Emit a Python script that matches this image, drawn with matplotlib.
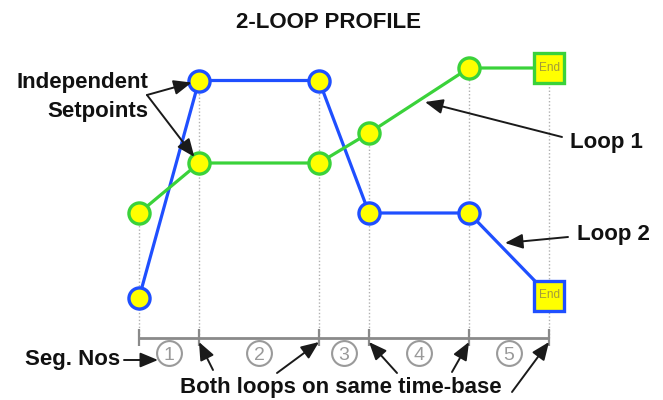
import matplotlib
matplotlib.use("Agg")
import matplotlib.pyplot as plt

# ---------------- data ----------------
times = [0, 15, 45, 57.5, 82.5, 102.5]          # segment boundaries (time base)
loop1 = [50, 70, 70, 82, 108, 108]               # Loop 1 setpoints (green)
loop2 = [16, 103, 103, 50, 50, 17]               # Loop 2 setpoints (blue)
seg_labels = ["1", "2", "3", "4", "5"]

# ---------------- layout helpers ----------------
X0, SX, Y0, SY = 139.0, 4.0, 338.0, 2.5           # pixel mapping of the drawing area
W, H = 663, 400


def P(xp, yp):
    return ((xp - X0) / SX, (Y0 - yp) / SY)


GREEN = "#3ad23a"
BLUE = "#1f4fff"
YELLOW = "#ffff00"
GRAY = "#9a9a9a"
FONT = "Liberation Sans"

fig = plt.figure(figsize=(W / 100, H / 100), dpi=100)
ax = fig.add_axes([0, 0, 1, 1])
ax.set_xlim(P(0, 0)[0], P(W, 0)[0])
ax.set_ylim(P(0, H)[1], P(0, 0)[1])
ax.axis("off")

# dotted vertical guides from the axis to the highest point at each time
tops = [max(a, b) for a, b in zip(loop1, loop2)]
ax.vlines(times, 0, tops, colors="#b0b0b0", linestyles=(0, (1, 1.5)), lw=1.0, zorder=1)

# time axis with ticks
ax.plot([times[0], times[-1]], [0, 0], color="#8a8a8a", lw=2.0, zorder=2,
        solid_capstyle="butt")
ax.vlines(times, -3.2, 3.6, colors="#8a8a8a", lw=1.6, zorder=2)

# segment numbers
mids = [(a + b) / 2 for a, b in zip(times[:-1], times[1:])]
ax.scatter(mids, [-6] * len(mids), s=320, facecolors="white", edgecolors=GRAY,
           linewidths=1.5, zorder=3)
for m, lab in zip(mids, seg_labels):
    ax.text(m, -6, lab, ha="center", va="center_baseline", fontsize=14,
            color=GRAY, family=FONT, zorder=4)

# loops
for vals, col in ((loop2, BLUE), (loop1, GREEN)):
    ax.plot(times, vals, color=col, lw=2.3, zorder=5, solid_capstyle="round")
    ax.plot(times[:-1], vals[:-1], ls="none", marker="o", ms=15.2,
            mfc=YELLOW, mec=col, mew=2.4, zorder=6)
    ax.plot(times[-1:], vals[-1:], ls="none", marker="s", ms=22,
            mfc=YELLOW, mec=col, mew=2.4, zorder=6)
    ax.text(times[-1], vals[-1], "End", ha="center", va="center", fontsize=8.5,
            color="#a39b3a", family=FONT, zorder=7)

# texts
tk = dict(fontsize=16, fontweight="bold", family=FONT, color="#111111")
ax.text(*P(329, 28), "2-LOOP PROFILE", ha="center", va="baseline", **tk)
ax.text(*P(148, 88), "Independent", ha="right", va="baseline", **tk)
ax.text(*P(148, 117), "Setpoints", ha="right", va="baseline", **tk)
ax.text(*P(570, 148), "Loop 1", ha="left", va="baseline", **tk)
ax.text(*P(577, 240), "Loop 2", ha="left", va="baseline", **tk)
ax.text(*P(25, 365), "Seg. Nos", ha="left", va="baseline", **tk)
ax.text(*P(180, 393), "Both loops on same time-base", ha="left", va="baseline", **tk)

# arrows
astyle = "-|>,head_length=0.6,head_width=0.25"


def arrow(tail, tip, shrinkB=0):
    ax.annotate("", xy=tip, xytext=tail,
                arrowprops=dict(arrowstyle=astyle, color="#1a1a1a", lw=1.4,
                                mutation_scale=18, shrinkA=0, shrinkB=shrinkB),
                zorder=8)


arrow(P(147, 95), (times[1], loop2[1]), shrinkB=5.5)
arrow(P(147, 95), (times[1], loop1[1]), shrinkB=5.5)
arrow(P(562, 137), P(425, 102))
arrow(P(568, 237), P(505, 243))
arrow(P(124, 360), P(158, 360))
bottom_tails = [(213, 370), (277, 373), (397, 373), (452, 372), (512, 392)]
for (tx, ty), t in zip(bottom_tails, times[1:]):
    arrow(P(tx, ty), (t, -1.6))

fig.savefig("out.png", dpi=100, facecolor="white")
